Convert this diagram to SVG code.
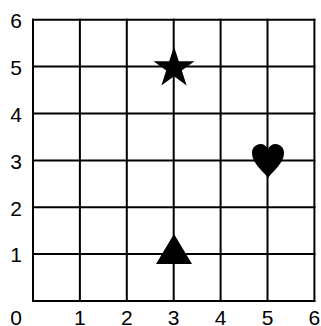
<svg xmlns="http://www.w3.org/2000/svg" width="321" height="326" viewBox="0 0 321 326">
<style>
.grid line{stroke:#000;stroke-width:2;stroke-linecap:square}
.lbl{font-family:"Liberation Sans",Arial,sans-serif;font-size:21px;fill:#000;text-anchor:middle}
.shape{fill:#000}
</style>
<rect width="321" height="326" fill="#fff"/>
<g id="grid" class="grid">
<line x1="33" y1="19.7" x2="33" y2="301"/>
<line x1="79.9" y1="19.7" x2="79.9" y2="301"/>
<line x1="126.8" y1="19.7" x2="126.8" y2="301"/>
<line x1="173.7" y1="19.7" x2="173.7" y2="301"/>
<line x1="220.6" y1="19.7" x2="220.6" y2="301"/>
<line x1="267.5" y1="19.7" x2="267.5" y2="301"/>
<line x1="314.4" y1="19.7" x2="314.4" y2="301"/>
<line x1="33" y1="19.7" x2="314.4" y2="19.7"/>
<line x1="33" y1="66.6" x2="314.4" y2="66.6"/>
<line x1="33" y1="113.5" x2="314.4" y2="113.5"/>
<line x1="33" y1="160.4" x2="314.4" y2="160.4"/>
<line x1="33" y1="207.3" x2="314.4" y2="207.3"/>
<line x1="33" y1="254.1" x2="314.4" y2="254.1"/>
<line x1="33" y1="301" x2="314.4" y2="301"/>
</g>
<g id="y-labels" class="lbl">
<text x="16" y="28">6</text>
<text x="16" y="74.5">5</text>
<text x="16" y="121.5">4</text>
<text x="16" y="168.5">3</text>
<text x="16" y="215.5">2</text>
<text x="16" y="262">1</text>
</g>
<g id="x-labels" class="lbl">
<text x="16" y="325">0</text>
<text x="79.9" y="325">1</text>
<text x="126.8" y="325">2</text>
<text x="173.7" y="325">3</text>
<text x="220.6" y="325">4</text>
<text x="267.5" y="325">5</text>
<text x="314.4" y="325">6</text>
</g>
<g id="star">
<polygon class="shape" points="174,46.5 178.82,61.37 194.45,61.36 181.8,70.53 186.64,85.39 174,76.2 161.36,85.39 166.2,70.53 153.55,61.36 169.18,61.37"/>
</g>
<g id="heart">
<path class="shape" d="M268,178 C263,171 252,163 252,153 C252,147.5 256,144 260.5,144 C264,144 266.5,146 268,149 C269.5,146 272,144 275.5,144 C280,144 284,147.5 284,153 C284,163 273,171 268,178 Z"/>
</g>
<g id="triangle">
<polygon class="shape" points="174,234 192,264 156,264"/>
</g>
</svg>
